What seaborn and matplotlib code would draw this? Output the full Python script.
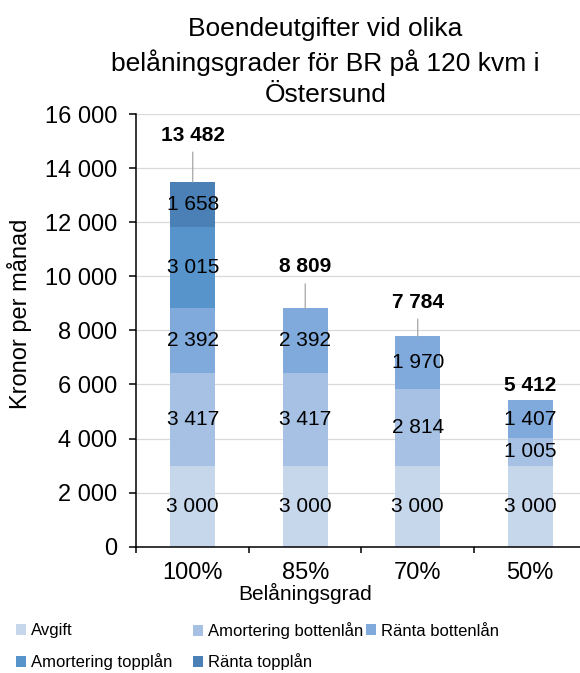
import matplotlib
matplotlib.use("Agg")
import matplotlib.pyplot as plt
from matplotlib.patches import Patch
import seaborn as sns
import numpy as np

# === Data ===
categories = ["100%", "85%", "70%", "50%"]
series_names = ["Avgift", "Amortering bottenlån", "Ränta bottenlån",
                "Amortering topplån", "Ränta topplån"]
avgift = [3000, 3000, 3000, 3000]
amort_botten = [3417, 3417, 2814, 1005]
ranta_botten = [2392, 2392, 1970, 1407]
amort_topp = [3015, 0, 0, 0]
ranta_topp = [1658, 0, 0, 0]
yticks = [0, 2000, 4000, 6000, 8000, 10000, 12000, 14000, 16000]

colors = ["#C6D6EB", "#A6C1E4", "#7FAADB", "#5694CB", "#4A80B6"]

layers = [avgift, amort_botten, ranta_botten, amort_topp, ranta_topp]
cum = np.cumsum(np.array(layers), axis=0)
totals = cum[-1]


def fmt(v):
    return f"{int(v):,}".replace(",", " ")


# === Style ===
sns.set_style("white")
plt.rcParams["font.family"] = ["Liberation Sans", "DejaVu Sans"]
plt.rcParams["text.color"] = "black"
plt.rcParams["axes.labelcolor"] = "black"
plt.rcParams["xtick.color"] = "black"
plt.rcParams["ytick.color"] = "black"

fig = plt.figure(figsize=(5.8, 6.73), dpi=100)
ax = fig.add_axes([0.2353, 0.1877, 0.7759, 0.6429])

# draw stacked bars: top cumulative first, lower layers on top of it
for k in range(len(layers) - 1, -1, -1):
    sns.barplot(x=categories, y=cum[k], color=colors[k], width=0.4,
                saturation=1, linewidth=0, ax=ax, zorder=2)

# segment labels
for k, vals in enumerate(layers):
    for i, v in enumerate(vals):
        if v > 0:
            bottom = cum[k][i] - v
            ax.text(i, bottom + v / 2, fmt(v), ha="center", va="center",
                    fontsize=15, color="black", zorder=4)

# total labels with leader lines (offset in points above bar top)
offsets = [33.8, 29.9, 24.5, 10.8]
for i, t in enumerate(totals):
    arrow = dict(arrowstyle="-", color="#A6A6A6", lw=0.9, shrinkA=3, shrinkB=0)
    ax.annotate(fmt(t), xy=(i, t), xytext=(0, offsets[i]),
                textcoords="offset points", ha="center", va="center",
                fontsize=15, fontweight="bold", color="black", zorder=5,
                arrowprops=arrow if offsets[i] > 15 else None)

# axes
ax.set_xlim(-0.5, 3.5)
ax.set_ylim(0, 16000)
ax.set_yticks(yticks)
ax.set_yticklabels([fmt(v) for v in yticks], fontsize=17)
ax.yaxis.grid(True, color="#D9D9D9", linewidth=0.9, zorder=0)
ax.set_axisbelow(True)
ax.tick_params(axis="y", direction="out", length=5, width=1.1, pad=9,
               colors="black", left=True)
ax.tick_params(axis="x", which="major", length=0, pad=11, labelsize=17)
ax.set_xticks(np.arange(-0.5, 4.0, 1.0), minor=True)
ax.tick_params(axis="x", which="minor", direction="out", length=4.5,
               width=1.1, colors="black", bottom=True)
for s in ["top", "right"]:
    ax.spines[s].set_visible(False)
for s in ["left", "bottom"]:
    ax.spines[s].set_color("black")
    ax.spines[s].set_linewidth(1.1)

ax.set_xlabel("Belåningsgrad", fontsize=15)
ax.xaxis.set_label_coords(0.3744, -0.108)
ax.xaxis.label.set_va("center")
ax.set_ylabel("Kronor per månad", fontsize=17)
ax.yaxis.set_label_coords(-0.2589, 0.5378)
ax.yaxis.label.set_va("center")

fig.text(325.5 / 580, 1 - 62 / 673,
         "Boendeutgifter vid olika\nbelåningsgrader för BR på 120 kvm i\nÖstersund",
         ha="center", va="center", fontsize=19, linespacing=1.38)

# legend, one entry per anchor so rows and columns line up like the original
handles = [Patch(facecolor=c, edgecolor="none") for c in colors]
entry_pos = [(16, 631), (193, 631), (366, 631), (16, 662), (193, 662)]
for j, (xpx, ypx) in enumerate(entry_pos):
    fig.legend([handles[j]], [series_names[j]],
               loc="center left", bbox_to_anchor=(xpx / 580, 1 - ypx / 673),
               frameon=False, fontsize=12, borderpad=0, borderaxespad=0,
               handlelength=0.6, handleheight=0.6, handletextpad=0.3)

fig.savefig("out.png", dpi=100)
